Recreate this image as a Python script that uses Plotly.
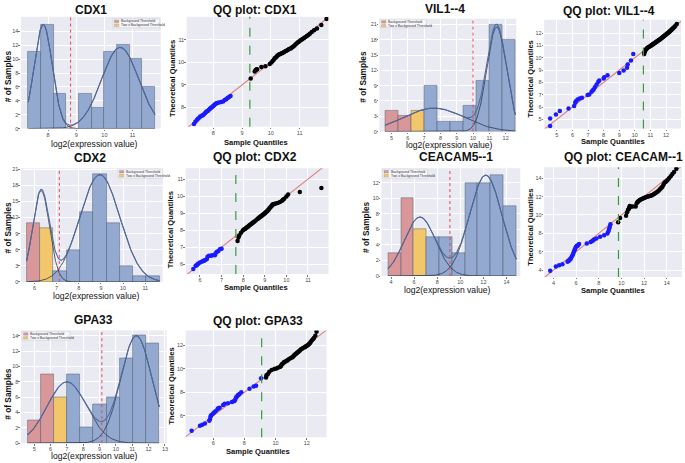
import numpy as np
import plotly.graph_objects as go

W, H = 685, 463

# ---------------- histogram data ----------------
genes = ["CDX1", "VIL1--4", "CDX2", "CEACAM5--1", "GPA33"]
qq_titles = ["QQ plot: CDX1", "QQ plot: VIL1--4", "QQ plot: CDX2",
             "QQ plot: CEACAM--1", "QQ plot: GPA33"]
legend_labels = ["Background Threshold", "Two x Background Threshold"]

cdx1_bin_start, cdx1_bin_width = 7.30, 0.45
cdx1_counts = [11, 15, 5, 0, 5, 3, 11, 12, 10, 6]
cdx1_bin_class = ["ex", "ex", "ex", "ex", "ex", "ex", "ex", "ex", "ex", "ex"]
cdx1_fit = [[15.0, 7.83, 0.32], [11.7, 10.56, 0.66]]      # amplitude, mean, sd
cdx1_threshold = 8.80

vil1_bin_start, vil1_bin_width = 4.60, 0.80
vil1_counts = [4, 3, 4, 9, 2, 2, 5, 10, 21, 18]
vil1_bin_class = ["bg", "bg", "2bg", "ex", "ex", "ex", "ex", "ex", "ex", "ex"]
vil1_fit = [[4.6, 7.6, 1.85], [20.5, 11.45, 0.60]]
vil1_threshold = 10.0

cdx2_bin_start, cdx2_bin_width = 5.65, 0.60
cdx2_counts = [11, 10, 2, 6, 13, 20, 11, 3, 1, 1]
cdx2_bin_class = ["bg", "2bg", "ex", "ex", "ex", "ex", "ex", "ex", "ex", "ex"]
cdx2_fit = [[17.0, 6.30, 0.38], [20.0, 8.95, 0.90]]
cdx2_threshold = 7.12

ceacam_bin_start, ceacam_bin_width = 3.75, 1.11
ceacam_counts = [3, 10, 6, 5, 5, 3, 12, 12, 13, 9]
ceacam_bin_class = ["bg", "bg", "2bg", "ex", "ex", "ex", "ex", "ex", "ex", "ex"]
ceacam_fit = [[7.6, 6.50, 1.35], [13.0, 12.2, 1.40]]
ceacam_threshold = 9.10

gpa33_bin_start, gpa33_bin_width = 4.60, 0.805
gpa33_counts = [3, 9, 6, 9, 2, 5, 6, 11, 14, 13]
gpa33_bin_class = ["bg", "bg", "2bg", "ex", "ex", "ex", "ex", "ex", "ex", "ex"]
gpa33_fit = [[8.0, 7.0, 1.20], [14.0, 11.25, 0.95]]
gpa33_threshold = 9.14

# ---------------- QQ data (sample quantile, theoretical quantile) ----------------
qq_cdx1_low_x = [7.33, 7.38, 7.43, 7.47, 7.52, 7.55, 7.6, 7.64, 7.68, 7.72, 7.75, 7.78, 7.82, 7.85, 7.88,
                 7.91, 7.94, 7.97, 8.0, 8.03, 8.06, 8.1, 8.14, 8.2, 8.27, 8.34, 8.4, 8.45, 8.5, 8.55, 8.6]
qq_cdx1_low_y = [7.27, 7.37, 7.45, 7.5, 7.55, 7.6, 7.63, 7.66, 7.7, 7.75, 7.8, 7.83, 7.86, 7.9, 7.94,
                 7.97, 8.0, 8.03, 8.07, 8.1, 8.14, 8.18, 8.2, 8.22, 8.24, 8.27, 8.33, 8.36, 8.42, 8.47, 8.51]
qq_cdx1_high_x = [9.3, 9.44, 9.47, 9.5, 9.52, 9.67, 9.81, 9.96, 10.02, 10.06, 10.1, 10.13, 10.17, 10.2, 10.23,
                  10.27, 10.3, 10.34, 10.38, 10.42, 10.46, 10.5, 10.54, 10.58, 10.62, 10.66, 10.7, 10.74, 10.78,
                  10.82, 10.86, 10.9, 10.94, 10.98, 11.02, 11.06, 11.1, 11.15, 11.2, 11.25, 11.3, 11.35, 11.42,
                  11.5, 11.6, 11.75, 11.93]
qq_cdx1_high_y = [9.29, 9.6, 9.66, 9.68, 9.7, 9.79, 9.83, 9.93, 10.0, 10.06, 10.12, 10.18, 10.22, 10.26, 10.3,
                  10.34, 10.36, 10.38, 10.4, 10.43, 10.46, 10.49, 10.52, 10.55, 10.58, 10.6, 10.63, 10.67, 10.71,
                  10.75, 10.8, 10.85, 10.89, 10.93, 10.97, 11.0, 11.04, 11.08, 11.13, 11.17, 11.22, 11.27, 11.35,
                  11.42, 11.5, 11.66, 11.92]
qq_cdx1_cut = 9.27

qq_vil1_low_x = [4.57, 4.57, 4.94, 5.19, 5.75, 6.11, 6.18, 6.22, 6.33, 6.46, 6.61, 6.97, 7.08, 7.23, 7.29,
                 7.36, 7.44, 7.55, 7.66, 7.72, 8.0, 8.04, 8.25, 9.0, 9.28, 9.5, 9.54, 9.75, 9.9]
qq_vil1_low_y = [4.46, 5.08, 5.4, 5.67, 5.89, 6.08, 6.35, 6.48, 6.62, 6.7, 6.75, 6.97, 7.02, 7.24, 7.34,
                 7.43, 7.61, 7.83, 8.05, 8.15, 8.32, 8.42, 8.58, 8.77, 8.96, 9.18, 9.45, 9.77, 10.31]
qq_vil1_high_x = [10.6, 10.62, 10.65, 10.7, 10.75, 10.8, 10.86, 10.92, 10.98, 11.03, 11.07, 11.1, 11.14, 11.18,
                  11.22, 11.26, 11.3, 11.34, 11.38, 11.42, 11.46, 11.5, 11.54, 11.58, 11.62, 11.66, 11.7, 11.74,
                  11.78, 11.82, 11.86, 11.9, 11.94, 11.98, 12.02, 12.06, 12.1, 12.14, 12.18, 12.22, 12.26, 12.3,
                  12.34, 12.38, 12.43, 12.48, 12.54, 12.6, 12.69]
qq_vil1_high_y = [10.31, 10.45, 10.55, 10.66, 10.74, 10.8, 10.86, 10.9, 10.94, 10.98, 11.02, 11.05, 11.08, 11.12,
                  11.15, 11.18, 11.22, 11.26, 11.3, 11.33, 11.37, 11.4, 11.44, 11.47, 11.51, 11.55, 11.59, 11.63,
                  11.67, 11.71, 11.75, 11.79, 11.83, 11.87, 11.91, 11.95, 11.99, 12.04, 12.08, 12.12, 12.17, 12.21,
                  12.26, 12.31, 12.37, 12.43, 12.5, 12.6, 12.74]
qq_vil1_cut = 10.55

qq_cdx2_low_x = [5.69, 5.8, 5.85, 5.88, 5.92, 6.0, 6.08, 6.15, 6.2, 6.23, 6.31, 6.35, 6.42, 6.51, 6.57,
                 6.69, 6.72, 6.77, 6.85, 6.92, 7.0]
qq_cdx2_low_y = [5.71, 5.9, 5.94, 5.98, 6.04, 6.1, 6.14, 6.19, 6.21, 6.23, 6.29, 6.43, 6.49, 6.49, 6.53,
                 6.53, 6.62, 6.72, 6.78, 6.88, 6.91]
qq_cdx2_high_x = [7.74, 7.78, 7.82, 7.9, 7.98, 8.03, 8.08, 8.12, 8.16, 8.2, 8.24, 8.28, 8.32, 8.36, 8.4, 8.44,
                  8.48, 8.52, 8.58, 8.66, 8.69, 8.72, 8.75, 8.78, 8.81, 8.84, 8.87, 8.9, 8.93, 8.96, 8.99, 9.02,
                  9.05, 9.08, 9.11, 9.14, 9.17, 9.2, 9.23, 9.27, 9.3, 9.33, 9.36, 9.4, 9.44, 9.5, 9.6, 9.7, 9.8,
                  9.84, 9.9, 10.0, 10.08, 10.62, 11.62]
qq_cdx2_high_y = [7.36, 7.56, 7.69, 7.85, 7.98, 8.03, 8.07, 8.11, 8.15, 8.19, 8.23, 8.27, 8.31, 8.35, 8.39, 8.43,
                  8.47, 8.51, 8.57, 8.65, 8.68, 8.71, 8.74, 8.77, 8.8, 8.83, 8.86, 8.89, 8.92, 8.95, 8.98, 9.02,
                  9.05, 9.08, 9.12, 9.16, 9.2, 9.25, 9.3, 9.36, 9.4, 9.45, 9.5, 9.52, 9.54, 9.56, 9.6, 9.65, 9.72,
                  9.78, 9.85, 9.98, 10.09, 10.24, 10.47]
qq_cdx2_cut = 7.66

qq_ceacam_low_x = [3.71, 4.21, 4.5, 4.79, 5.24, 5.32, 5.41, 5.47, 5.53, 5.62, 5.68, 5.74, 5.79, 5.85, 5.91,
                   5.97, 6.06, 6.09, 6.15, 6.26, 6.94, 7.29, 7.47, 7.59, 7.79, 8.12, 8.47, 8.76, 8.85, 8.91,
                   8.97, 9.03]
qq_ceacam_low_y = [3.93, 4.39, 4.54, 4.65, 4.9, 5.0, 5.08, 5.18, 5.25, 5.47, 5.61, 5.79, 5.97, 6.15, 6.33,
                   6.51, 6.62, 6.65, 6.69, 6.83, 6.9, 7.05, 7.19, 7.33, 7.44, 7.62, 7.8, 7.98, 8.23, 8.48,
                   8.7, 8.98]
qq_ceacam_high_x = [9.71, 9.88, 10.41, 10.5, 10.59, 10.64, 10.68, 10.71, 10.74, 10.8, 11.0, 11.26, 11.35, 11.42,
                    11.47, 11.55, 11.63, 11.71, 11.8, 11.9, 12.0, 12.1, 12.2, 12.29, 12.4, 12.5, 12.59, 12.68,
                    12.78, 12.88, 12.98, 13.08, 13.18, 13.28, 13.38, 13.47, 13.55, 13.62, 13.7, 13.76, 13.85,
                    13.95, 14.06, 14.2, 14.35, 14.5, 14.65, 14.85]
qq_ceacam_high_y = [9.2, 9.66, 9.91, 10.3, 10.56, 10.65, 10.74, 10.86, 10.99, 10.9, 10.92, 10.92, 11.28, 11.4,
                    11.46, 11.55, 11.63, 11.68, 11.75, 11.8, 11.85, 11.9, 11.95, 11.99, 12.03, 12.06, 12.08, 12.14,
                    12.2, 12.28, 12.36, 12.44, 12.53, 12.65, 12.78, 12.89, 12.98, 13.07, 13.25, 13.43, 13.55,
                    13.65, 13.78, 14.0, 14.22, 14.45, 14.68, 15.04]
qq_ceacam_cut = 9.74

qq_gpa33_low_x = [4.62, 5.15, 5.3, 5.47, 5.75, 5.79, 5.83, 5.85, 5.89, 6.0, 6.06, 6.15, 6.28, 6.32, 6.42, 6.64,
                  6.74, 6.95, 7.2, 7.33, 7.38, 7.42, 7.48, 7.52, 7.59, 7.63, 7.69, 7.8, 8.33, 8.6, 8.75, 9.07]
qq_gpa33_low_y = [4.75, 5.17, 5.25, 5.36, 5.58, 5.72, 5.92, 6.0, 6.08, 6.2, 6.28, 6.4, 6.56, 6.64, 6.69, 6.92,
                  7.03, 7.08, 7.18, 7.25, 7.3, 7.39, 7.58, 7.64, 7.75, 7.8, 7.86, 8.0, 8.31, 8.5, 8.55, 9.19]
qq_gpa33_high_x = [9.39, 9.42, 9.5, 9.6, 9.75, 9.92, 10.05, 10.15, 10.3, 10.34, 10.39, 10.45, 10.52, 10.56, 10.64,
                   10.72, 10.77, 10.85, 10.95, 11.05, 11.1, 11.15, 11.19, 11.25, 11.3, 11.35, 11.4, 11.45, 11.5,
                   11.56, 11.61, 11.7, 11.78, 11.88, 11.93, 11.98, 12.04, 12.1, 12.15, 12.2, 12.25, 12.32, 12.4,
                   12.46, 12.55, 12.63]
qq_gpa33_high_y = [9.25, 9.45, 9.53, 9.75, 9.89, 9.97, 10.02, 10.08, 10.17, 10.22, 10.36, 10.42, 10.5, 10.58, 10.62,
                   10.68, 10.72, 10.8, 10.88, 10.95, 11.0, 11.06, 11.14, 11.2, 11.26, 11.32, 11.38, 11.42, 11.48,
                   11.54, 11.64, 11.7, 11.78, 11.83, 11.88, 11.93, 11.98, 12.03, 12.1, 12.17, 12.26, 12.39, 12.5,
                   12.6, 12.8, 13.14]
qq_gpa33_cut = 9.11

qq_ref_line = [0.0, 1.0]   # intercept, slope of reference line

# ---------------- layout (pixel boxes etc.) ----------------
hist_data = [
    (cdx1_bin_start, cdx1_bin_width, cdx1_counts, cdx1_bin_class, cdx1_fit, cdx1_threshold),
    (vil1_bin_start, vil1_bin_width, vil1_counts, vil1_bin_class, vil1_fit, vil1_threshold),
    (cdx2_bin_start, cdx2_bin_width, cdx2_counts, cdx2_bin_class, cdx2_fit, cdx2_threshold),
    (ceacam_bin_start, ceacam_bin_width, ceacam_counts, ceacam_bin_class, ceacam_fit, ceacam_threshold),
    (gpa33_bin_start, gpa33_bin_width, gpa33_counts, gpa33_bin_class, gpa33_fit, gpa33_threshold),
]
qq_data = [
    (qq_cdx1_low_x, qq_cdx1_low_y, qq_cdx1_high_x, qq_cdx1_high_y, qq_cdx1_cut),
    (qq_vil1_low_x, qq_vil1_low_y, qq_vil1_high_x, qq_vil1_high_y, qq_vil1_cut),
    (qq_cdx2_low_x, qq_cdx2_low_y, qq_cdx2_high_x, qq_cdx2_high_y, qq_cdx2_cut),
    (qq_ceacam_low_x, qq_ceacam_low_y, qq_ceacam_high_x, qq_ceacam_high_y, qq_ceacam_cut),
    (qq_gpa33_low_x, qq_gpa33_low_y, qq_gpa33_high_x, qq_gpa33_high_y, qq_gpa33_cut),
]

hist_boxes = [(21, 161, 15, 128), (380, 517, 17, 131), (21, 163, 168, 283), (382, 521, 168, 277), (21, 167, 332, 446)]
hist_xrange = [[7.04, 12.0], [4.26, 12.65], [5.39, 11.79], [3.17, 15.19], [4.19, 13.11]]
hist_yrange = [[0, 16.1], [0, 22.1], [0, 21.2], [0, 13.9], [0, 14.7]]
hist_xticks = [[8, 9, 10, 11], [5, 6, 7, 8, 9, 10, 11, 12], [6, 7, 8, 9, 10, 11], [4, 6, 8, 10, 12, 14],
               [5, 6, 7, 8, 9, 10, 11, 12, 13]]
hist_yticks = [list(range(0, 15, 2)), list(range(0, 22, 3)), list(range(0, 22, 3)), list(range(0, 13, 2)),
               list(range(0, 15, 2))]
hist_title_pos = [(91, 8), (446, 7), (90, 158), (457, 157), (94, 321)]
hist_xlabel_pos = [(95, 143.5), (450, 144.5), (97, 297), (448, 291), (95, 458.5)]
hist_ylabel_pos = [(8, 75), (364, 75), (8, 228), (366, 227), (8, 396)]
hist_legend_box = [(113, 160, 17, 26), (380.5, 427, 17.5, 26), (118, 163, 169, 178), (383, 428, 169, 178),
                   (22, 70, 333, 342)]

qq_boxes = [(187, 329, 15, 126), (545, 682, 18, 128), (186, 329, 168, 275), (545, 683, 167, 278), (186, 327, 332, 440)]
qq_xrange = [[7.08, 12.0], [4.19, 12.96], [5.34, 11.95], [3.18, 15.35], [4.24, 13.27]]
qq_yrange = [[7.15, 12.02], [4.25, 13.08], [5.42, 11.64], [3.25, 15.2], [4.19, 13.25]]
qq_xticks = [[8, 9, 10, 11], [5, 6, 7, 8, 9, 10, 11, 12], [6, 7, 8, 9, 10, 11], [4, 6, 8, 10, 12, 14], [6, 8, 10, 12]]
qq_yticks = [[8, 9, 10, 11], [5, 6, 7, 8, 9, 10, 11, 12], [6, 7, 8, 9, 10, 11], [4, 6, 8, 10, 12, 14], [6, 8, 10, 12]]
qq_title_pos = [(255, 8), (610, 9), (255, 157), (624, 157), (258, 322)]
qq_xlabel_pos = [(256, 142), (614, 141), (256, 288.5), (614, 292), (258, 454)]
qq_ylabel_pos = [(172, 77), (531, 78), (171, 230), (531, 228), (172, 388)]

BAR_COLORS = {"bg": "#d9979a", "2bg": "#f2c76b", "ex": "#93a9cf"}
TICK_FONT = dict(family="Liberation Sans, Arial, sans-serif", size=5.5, color="#4a4a4a")
TITLE_FONT = dict(family="Liberation Sans, Arial, sans-serif", size=12, color="#111111")
LABEL_FONT = dict(family="Liberation Sans, Arial, sans-serif", size=8.6, color="#111111")
YLABEL_FONT = dict(family="Liberation Sans, Arial, sans-serif", size=8.3, color="#111111")
BLABEL_FONT = dict(family="Liberation Sans, Arial, sans-serif", size=7.6, color="#111111")
LEG_FONT = dict(family="Liberation Sans, Arial, sans-serif", size=3.4, color="#333333")

fig = go.Figure()
axes = {}
annotations = []
shapes = []


def P(x, y):
    return x / W, 1 - y / H


def make_axes(i, box, xr, yr, xt, yt):
    x0, x1, y0, y1 = box
    s = "" if i == 1 else str(i)
    common = dict(showgrid=True, gridcolor="white", gridwidth=0.8, zeroline=False, showline=False,
                  ticks="outside", ticklen=1.5, tickwidth=0.6, tickcolor="#777777", tickfont=TICK_FONT,
                  ticklabelstandoff=-1, fixedrange=True)
    axes["xaxis" + s] = dict(domain=[x0 / W, x1 / W], range=xr, tickvals=xt, anchor="y" + s, **common)
    axes["yaxis" + s] = dict(domain=[1 - y1 / H, 1 - y0 / H], range=yr, tickvals=yt, anchor="x" + s, **common)
    return "x" + s, "y" + s


def text(s, pos, font, angle=0):
    x, y = P(*pos)
    annotations.append(dict(text=s, x=x, y=y, xref="paper", yref="paper", showarrow=False,
                            xanchor="center", yanchor="middle", textangle=angle, font=font, borderpad=0))


# ---------------- histograms ----------------
for k, (start, width, counts, cls, fit, thr) in enumerate(hist_data):
    xa, ya = make_axes(k + 1, hist_boxes[k], hist_xrange[k], hist_yrange[k], hist_xticks[k], hist_yticks[k])
    n = len(counts)
    centers = [start + (j + 0.5) * width for j in range(n)]
    fig.add_trace(go.Bar(x=centers, y=counts, width=[width] * n,
                         marker=dict(color=[BAR_COLORS[c] for c in cls],
                                     line=dict(color="rgba(70,80,100,0.55)", width=0.8)),
                         xaxis=xa, yaxis=ya, showlegend=False, hoverinfo="skip"))
    xs = np.linspace(start, start + n * width, 240)
    comps = [a * np.exp(-0.5 * ((xs - m) / s) ** 2) for a, m, s in fit]
    for c in comps:
        fig.add_trace(go.Scatter(x=xs, y=c, mode="lines", line=dict(color="#2f3a52", width=0.8),
                                 xaxis=xa, yaxis=ya, showlegend=False, hoverinfo="skip"))
    fig.add_trace(go.Scatter(x=xs, y=sum(comps), mode="lines", line=dict(color="#4f6a9c", width=1.1),
                             xaxis=xa, yaxis=ya, showlegend=False, hoverinfo="skip"))
    shapes.append(dict(type="line", xref=xa, yref=ya + " domain", x0=thr, x1=thr, y0=0, y1=1,
                       line=dict(color="#e8474f", width=1, dash="dot")))
    text("<b>" + genes[k] + "</b>", hist_title_pos[k], TITLE_FONT)
    text("log2(expression value)", hist_xlabel_pos[k], LABEL_FONT)
    text("<b># of Samples</b>", hist_ylabel_pos[k], YLABEL_FONT, angle=-90)
    # legend box
    lx0, lx1, ly0, ly1 = hist_legend_box[k]
    bx0, by1 = P(lx0, ly0)
    bx1, by0 = P(lx1, ly1)
    shapes.append(dict(type="rect", xref="paper", yref="paper", x0=bx0, x1=bx1, y0=by0, y1=by1,
                       fillcolor="rgba(248,248,252,0.85)", line=dict(color="#c8c8d0", width=0.5)))
    for r, (lab, col) in enumerate(zip(legend_labels, [BAR_COLORS["bg"], BAR_COLORS["2bg"]])):
        cy = ly0 + 2.6 + r * 3.9
        px0, py1 = P(lx0 + 1.5, cy - 1.3)
        px1, py0 = P(lx0 + 6.0, cy + 1.3)
        shapes.append(dict(type="rect", xref="paper", yref="paper", x0=px0, x1=px1, y0=py0, y1=py1,
                           fillcolor=col, line=dict(color="#888888", width=0.3)))
        tx, ty = P(lx0 + 7.5, cy)
        annotations.append(dict(text=lab, x=tx, y=ty, xref="paper", yref="paper", showarrow=False,
                                xanchor="left", yanchor="middle", font=LEG_FONT, borderpad=0))

# ---------------- QQ plots ----------------
for k, (lx, ly, hx, hy, cut) in enumerate(qq_data):
    xa, ya = make_axes(k + 6, qq_boxes[k], qq_xrange[k], qq_yrange[k], qq_xticks[k], qq_yticks[k])
    xr = qq_xrange[k]
    b0, b1 = qq_ref_line
    fig.add_trace(go.Scatter(x=xr, y=[b0 + b1 * v for v in xr], mode="lines",
                             line=dict(color="#de8080", width=1.1),
                             xaxis=xa, yaxis=ya, showlegend=False, hoverinfo="skip"))
    fig.add_trace(go.Scatter(x=lx, y=ly, mode="markers", marker=dict(color="#1a1aff", size=4.5, line=dict(width=0)),
                             xaxis=xa, yaxis=ya, showlegend=False, hoverinfo="skip"))
    fig.add_trace(go.Scatter(x=hx, y=hy, mode="markers", marker=dict(color="#000000", size=4.5, line=dict(width=0)),
                             xaxis=xa, yaxis=ya, showlegend=False, hoverinfo="skip"))
    shapes.append(dict(type="line", xref=xa, yref=ya + " domain", x0=cut, x1=cut, y0=0, y1=1,
                       line=dict(color="#3a9a3a", width=1.2, dash="dash")))
    text("<b>" + qq_titles[k] + "</b>", qq_title_pos[k], TITLE_FONT)
    text("<b>Sample Quantiles</b>", qq_xlabel_pos[k], BLABEL_FONT)
    text("<b>Theoretical Quantiles</b>", qq_ylabel_pos[k], BLABEL_FONT, angle=-90)

fig.update_layout(width=W, height=H, margin=dict(l=0, r=0, t=0, b=0),
                  paper_bgcolor="white", plot_bgcolor="#eaeaf2",
                  bargap=0, showlegend=False, annotations=annotations, shapes=shapes, **axes)
fig.write_html("out.html", config={"displayModeBar": False},
               post_script="document.body.style.margin='0px';document.body.style.padding='0px';")
